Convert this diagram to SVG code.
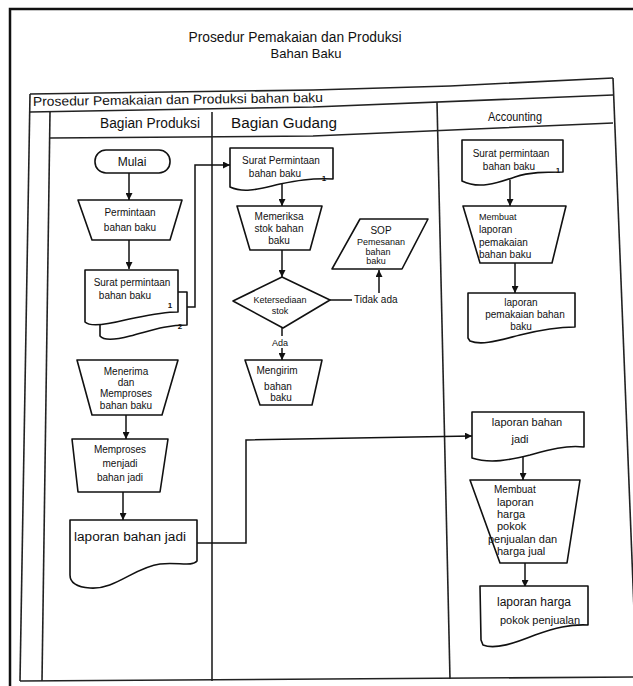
<svg xmlns="http://www.w3.org/2000/svg" width="633" height="686" viewBox="0 0 633 686">
<defs>
<marker id="ah" viewBox="0 0 10 10" refX="10" refY="5" markerWidth="7" markerHeight="7" orient="auto" markerUnits="userSpaceOnUse">
<path d="M0,0 L10,5 L0,10 Z" fill="#111"/>
</marker>
<style>
.frame{fill:none;stroke:#111;stroke-width:2.5}
.tbl{fill:none;stroke:#222;stroke-width:1.6}
.n{fill:#fff;stroke:#111;stroke-width:1.6;stroke-linejoin:round}
.c{fill:none;stroke:#111;stroke-width:1.5}
.ca{fill:none;stroke:#111;stroke-width:1.5;marker-end:url(#ah)}
text{font-family:"Liberation Sans",Arial,sans-serif;fill:#111}
.t{font-size:10px;text-anchor:middle}
.s{font-size:10px;text-anchor:start}
.num{font-size:8px;text-anchor:middle;font-weight:bold}
</style>
</defs>
<rect width="633" height="686" fill="#fff"/>
<g id="frame">
<path class="frame" d="M10,686 V9 H633"/>
<text x="295" y="42" font-size="14" text-anchor="middle" textLength="213" lengthAdjust="spacingAndGlyphs">Prosedur Pemakaian dan Produksi</text>
<text x="306" y="58" font-size="13" text-anchor="middle">Bahan Baku</text>
</g>
<g id="table">
<polyline class="tbl" points="30,94 313,90 450,86 613,78"/>
<polyline class="tbl" points="30,112 313,107 613,95"/>
<polyline class="tbl" points="50,138 313,136 613,123"/>
<line class="tbl" x1="30" y1="94" x2="20" y2="681"/>
<line class="tbl" x1="50" y1="112" x2="42" y2="681"/>
<line class="tbl" x1="212" y1="112" x2="212" y2="681"/>
<line class="tbl" x1="437" y1="102" x2="450" y2="679"/>
<line class="tbl" x1="613" y1="78" x2="637" y2="686"/>
<line class="tbl" x1="20" y1="681" x2="637" y2="677"/>
<text x="33" y="106" font-size="13" textLength="290" lengthAdjust="spacingAndGlyphs" transform="rotate(-0.8 33 106)">Prosedur Pemakaian dan Produksi bahan baku</text>
<text x="150" y="128" font-size="14" text-anchor="middle" textLength="100" lengthAdjust="spacingAndGlyphs">Bagian Produksi</text>
<text x="284" y="128" font-size="14" text-anchor="middle" textLength="106" lengthAdjust="spacingAndGlyphs">Bagian Gudang</text>
<text x="515" y="121" font-size="12" text-anchor="middle" textLength="54" lengthAdjust="spacingAndGlyphs">Accounting</text>
</g>
<g id="connectors">
<path class="ca" d="M129,173 V200"/>
<path class="ca" d="M129,240 V269"/>
<path class="ca" d="M187,307 H195 V165 H230"/>
<path class="ca" d="M126,415 V439"/>
<path class="ca" d="M123,492 V520"/>
<path class="ca" d="M197,543 H246 V440 L472,436"/>
<path class="ca" d="M282,184 V206"/>
<path class="ca" d="M282,250 V277"/>
<path class="c" d="M330,300 H352"/>
<path class="ca" d="M379,293 V270"/>
<path class="c" d="M282,328 V336"/>
<path class="ca" d="M282,348 V360"/>
<path class="ca" d="M510,180 V206"/>
<path class="ca" d="M515,263 V293"/>
<path class="ca" d="M523,455 V480"/>
<path class="ca" d="M525,563 V587"/>
</g>
<g id="mulai">
<rect class="n" x="95" y="150" width="75" height="23" rx="11"/>
<text x="132" y="166" font-size="12" text-anchor="middle">Mulai</text>
</g>
<g id="permintaan">
<polygon class="n" points="78,200 182,200 170,240 92,240"/>
<text class="t" x="130" y="216">Permintaan</text>
<text class="t" x="130" y="231">bahan baku</text>
</g>
<g id="surat-produksi">
<path class="n" d="M100,292 H187 V325 C165,325 150,331 130,336 C115,340 104,341 100,336 Z"/>
<path class="n" d="M85,270 H178 V312 C160,312 145,316 125,320 C105,325 90,327 85,322 Z"/>
<text class="t" x="132" y="286">Surat permintaan</text>
<text class="t" x="125" y="299">bahan baku</text>
<text class="num" x="170" y="308">1</text>
<text class="num" x="180" y="329">2</text>
</g>
<g id="menerima">
<polygon class="n" points="77,360 178,360 162,415 92,415"/>
<text class="t" x="126" y="375">Menerima</text>
<text class="t" x="126" y="386">dan</text>
<text class="t" x="126" y="397">Memproses</text>
<text class="t" x="126" y="409">bahan baku</text>
</g>
<g id="memproses">
<polygon class="n" points="72,439 168,439 160,492 78,492"/>
<text class="t" x="120" y="453">Memproses</text>
<text class="t" x="120" y="467">menjadi</text>
<text class="t" x="120" y="481">bahan jadi</text>
</g>
<g id="laporan-jadi-produksi">
<path class="n" d="M70,520 H197 V561 C192,567 178,562 160,564 C135,567 115,590 90,588 C76,587 70,582 70,575 Z"/>
<text x="130" y="541" font-size="12" text-anchor="middle" textLength="112" lengthAdjust="spacingAndGlyphs">laporan bahan jadi</text>
</g>
<g id="surat-gudang">
<path class="n" d="M230,148 H333 V179 C310,178 295,181 280,184 C262,188 245,194 230,187 Z"/>
<text class="t" x="281" y="164">Surat Permintaan</text>
<text class="t" x="275" y="177">bahan baku</text>
<text class="num" x="324" y="181">1</text>
</g>
<g id="memeriksa">
<polygon class="n" points="237,206 322,206 310,250 250,250"/>
<text class="t" x="279" y="220">Memeriksa</text>
<text class="t" x="279" y="232">stok bahan</text>
<text class="t" x="279" y="244">baku</text>
</g>
<g id="ketersediaan">
<polygon class="n" points="282,277 330,300 283,328 233,301"/>
<text x="280" y="303" font-size="9" text-anchor="middle">Ketersediaan</text>
<text x="280" y="314" font-size="9" text-anchor="middle">stok</text>
</g>
<g id="label-tidak-ada">
<text class="s" x="354" y="303">Tidak ada</text>
</g>
<g id="label-ada">
<text x="280" y="346" font-size="9" text-anchor="middle">Ada</text>
</g>
<g id="sop">
<polygon class="n" points="360,219 428,219 402,269 332,269"/>
<text class="t" x="381" y="234">SOP</text>
<text x="381" y="245" font-size="9" text-anchor="middle">Pemesanan</text>
<text x="378" y="255" font-size="9" text-anchor="middle">bahan</text>
<text x="376" y="264" font-size="9" text-anchor="middle">baku</text>
</g>
<g id="mengirim">
<polygon class="n" points="245,360 322,360 312,405 260,405"/>
<text class="t" x="277" y="374">Mengirim</text>
<text class="t" x="278" y="390">bahan</text>
<text class="t" x="281" y="401">baku</text>
</g>
<g id="surat-accounting">
<path class="n" d="M462,140 H563 V172 C545,172 530,172 515,177 C500,182 480,190 462,181 Z"/>
<text class="t" x="511" y="157">Surat permintaan</text>
<text class="t" x="509" y="170">bahan baku</text>
<text class="num" x="558" y="173">1</text>
</g>
<g id="membuat-pemakaian">
<polygon class="n" points="463,206 566,206 552,263 480,263"/>
<text x="479" y="220" font-size="9">Membuat</text>
<text class="s" x="479" y="233">laporan</text>
<text class="s" x="479" y="246">pemakaian</text>
<text class="s" x="479" y="258">bahan baku</text>
</g>
<g id="laporan-pemakaian">
<path class="n" d="M468,293 H575 V327 C555,327 540,330 520,335 C500,340 482,346 470,341 L468,338 Z"/>
<text class="t" x="521" y="306">laporan</text>
<text class="t" x="525" y="318">pemakaian bahan</text>
<text class="t" x="521" y="330">baku</text>
</g>
<g id="laporan-jadi-accounting">
<path class="n" d="M472,412 H584 V447 C565,445 548,450 530,455 C510,460 490,464 472,458 Z"/>
<text x="527" y="426" font-size="11" text-anchor="middle">laporan bahan</text>
<text x="520" y="443" font-size="11" text-anchor="middle">jadi</text>
</g>
<g id="membuat-hpp">
<polygon class="n" points="470,480 580,480 567,563 500,563"/>
<text x="494" y="493" font-size="10">Membuat</text>
<text x="497" y="506" font-size="11">laporan</text>
<text x="497" y="518" font-size="11">harga</text>
<text x="497" y="530" font-size="11">pokok</text>
<text x="488" y="543" font-size="11">penjualan dan</text>
<text x="497" y="555" font-size="11">harga jual</text>
</g>
<g id="laporan-hpp">
<path class="n" d="M480,586 H588 V625 C570,624 555,628 535,635 C515,643 495,650 483,645 L481,640 Z"/>
<text x="534" y="606" font-size="12" text-anchor="middle">laporan harga</text>
<text x="540" y="624" font-size="11" text-anchor="middle">pokok penjualan</text>
</g>
</svg>
